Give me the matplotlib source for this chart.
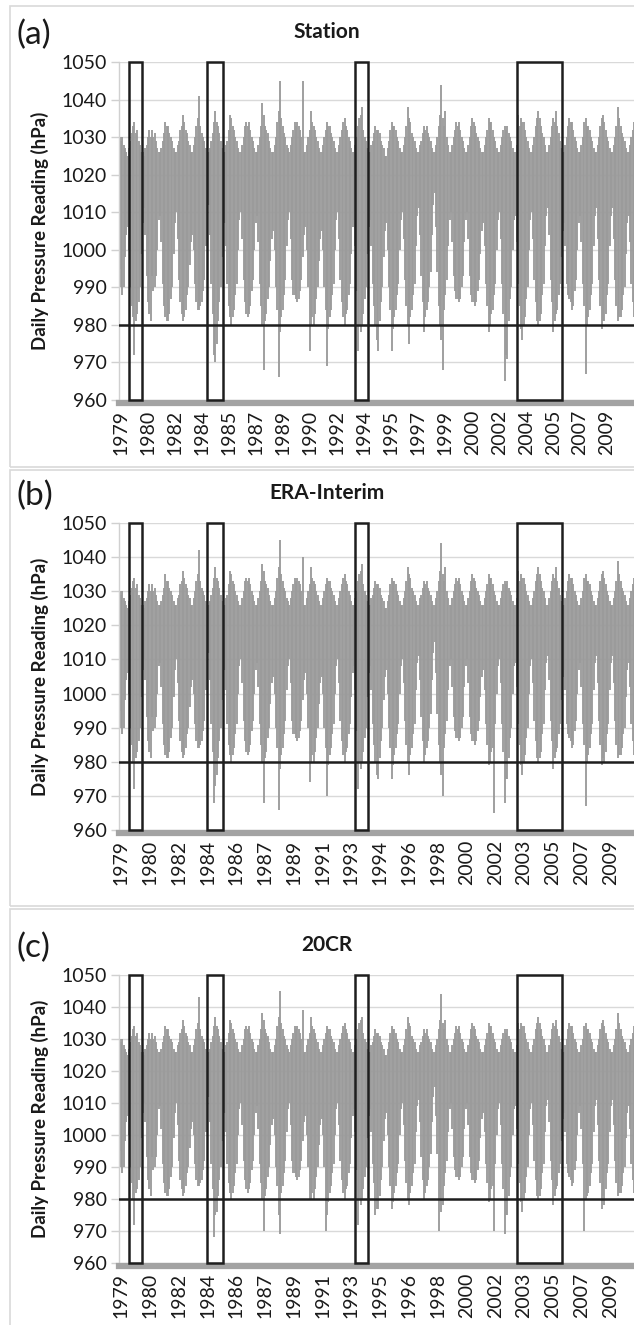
import matplotlib.pyplot as plt
import matplotlib.patches as patches
import numpy as np

plt.rcParams['font.family'] = ['Lato', 'DejaVu Sans']

# === data: monthly lowest / highest daily pressure (hPa), one row per year 1979-2010 ===
first_year = 1979

station_low = [
    [995, 990, 988, 990, 998, 1004, 1006, 1000, 990, 985, 982, 972],
    [981, 983, 986, 990, 999, 1007, 1011, 1004, 993, 986, 983, 981],
    [993, 989, 990, 993, 1000, 1008, 1009, 1002, 991, 985, 982, 981],
    [981, 983, 987, 990, 999, 1007, 1010, 1003, 992, 986, 983, 981],
    [982, 984, 988, 990, 996, 1002, 1004, 1000, 991, 986, 984, 984],
    [985, 986, 989, 992, 1001, 1009, 1012, 1004, 991, 983, 972, 970],
    [975, 981, 986, 990, 998, 1005, 1007, 1001, 991, 985, 982, 980],
    [982, 984, 988, 991, 1000, 1008, 1010, 1003, 992, 986, 983, 982],
    [983, 985, 989, 992, 1000, 1007, 1009, 1002, 991, 985, 980, 968],
    [981, 983, 987, 990, 997, 1003, 1005, 1000, 990, 984, 966, 978],
    [982, 984, 988, 992, 1001, 1008, 1010, 1003, 992, 988, 988, 987],
    [986, 987, 989, 992, 998, 1004, 1006, 1000, 990, 973, 980, 982],
    [980, 983, 987, 990, 997, 1003, 1005, 1000, 990, 984, 969, 979],
    [982, 984, 988, 991, 1000, 1008, 1010, 1003, 992, 986, 982, 980],
    [983, 984, 988, 991, 999, 1006, 1008, 1001, 989, 973, 980, 978],
    [980, 983, 987, 990, 999, 1006, 1008, 1001, 991, 985, 980, 976],
    [973, 981, 986, 990, 998, 1005, 1007, 1000, 990, 984, 973, 979],
    [982, 984, 988, 991, 1000, 1008, 1010, 1003, 992, 985, 980, 975],
    [982, 984, 988, 991, 1001, 1009, 1011, 1004, 993, 986, 978, 982],
    [984, 986, 990, 994, 1004, 1012, 1015, 1006, 994, 985, 980, 976],
    [968, 984, 988, 992, 1001, 1008, 1010, 1002, 993, 989, 987, 987],
    [986, 987, 990, 993, 1002, 1008, 1010, 1003, 993, 988, 986, 986],
    [985, 986, 989, 992, 999, 1005, 1007, 1001, 991, 985, 978, 980],
    [983, 984, 988, 991, 1000, 1008, 1010, 1003, 991, 983, 965, 972],
    [971, 981, 987, 990, 1000, 1008, 1009, 1002, 991, 985, 979, 976],
    [980, 982, 987, 990, 1000, 1008, 1010, 1003, 992, 986, 981, 980],
    [981, 983, 988, 991, 1001, 1009, 1011, 1004, 992, 986, 978, 981],
    [983, 984, 988, 991, 998, 1005, 1007, 1001, 991, 988, 987, 986],
    [984, 985, 989, 992, 1000, 1007, 1009, 1002, 991, 985, 967, 980],
    [982, 984, 988, 991, 1001, 1009, 1011, 1003, 992, 985, 979, 981],
    [981, 983, 988, 991, 1001, 1009, 1011, 1003, 992, 985, 981, 982],
    [982, 984, 988, 990, 999, 1007, 1009, 1002, 991, 986, 982, 981],
]
station_high = [
    [1030, 1029, 1030, 1028, 1027, 1026, 1025, 1027, 1029, 1031, 1033, 1034],
    [1031, 1032, 1029, 1028, 1026, 1026, 1025, 1027, 1028, 1030, 1032, 1030],
    [1032, 1030, 1031, 1029, 1027, 1026, 1026, 1027, 1029, 1031, 1034, 1033],
    [1033, 1031, 1030, 1029, 1027, 1026, 1026, 1028, 1029, 1032, 1033, 1036],
    [1034, 1032, 1031, 1029, 1028, 1026, 1026, 1028, 1030, 1033, 1035, 1041],
    [1033, 1031, 1030, 1029, 1027, 1026, 1026, 1027, 1029, 1031, 1034, 1037],
    [1034, 1033, 1031, 1029, 1027, 1026, 1026, 1028, 1029, 1032, 1036, 1035],
    [1033, 1032, 1030, 1029, 1027, 1026, 1026, 1028, 1030, 1033, 1034, 1033],
    [1034, 1032, 1030, 1029, 1027, 1026, 1026, 1028, 1030, 1033, 1039, 1036],
    [1033, 1032, 1031, 1029, 1027, 1026, 1026, 1028, 1030, 1034, 1037, 1045],
    [1035, 1033, 1031, 1030, 1028, 1027, 1026, 1028, 1030, 1032, 1034, 1033],
    [1034, 1033, 1032, 1030, 1045, 1026, 1026, 1028, 1030, 1032, 1037, 1034],
    [1033, 1032, 1030, 1029, 1027, 1026, 1026, 1028, 1030, 1032, 1034, 1033],
    [1033, 1031, 1030, 1029, 1027, 1026, 1026, 1028, 1030, 1032, 1034, 1035],
    [1033, 1032, 1030, 1029, 1027, 1026, 1026, 1028, 1030, 1033, 1035, 1036],
    [1038, 1032, 1030, 1029, 1027, 1026, 1026, 1028, 1029, 1031, 1033, 1032],
    [1032, 1031, 1029, 1028, 1027, 1025, 1025, 1027, 1029, 1032, 1034, 1033],
    [1033, 1032, 1030, 1029, 1027, 1026, 1026, 1028, 1030, 1033, 1038, 1035],
    [1034, 1031, 1030, 1029, 1027, 1026, 1026, 1028, 1029, 1031, 1033, 1032],
    [1033, 1031, 1030, 1029, 1027, 1026, 1026, 1028, 1030, 1033, 1036, 1044],
    [1035, 1033, 1037, 1030, 1028, 1026, 1026, 1028, 1030, 1032, 1034, 1033],
    [1034, 1032, 1030, 1029, 1027, 1026, 1026, 1028, 1030, 1033, 1035, 1034],
    [1033, 1031, 1030, 1029, 1027, 1026, 1026, 1028, 1030, 1032, 1035, 1034],
    [1034, 1032, 1030, 1029, 1027, 1026, 1026, 1028, 1030, 1032, 1033, 1032],
    [1033, 1031, 1030, 1029, 1027, 1026, 1026, 1028, 1036, 1033, 1035, 1034],
    [1034, 1032, 1030, 1029, 1027, 1026, 1026, 1028, 1030, 1033, 1035, 1037],
    [1035, 1033, 1031, 1030, 1028, 1026, 1026, 1028, 1030, 1033, 1035, 1034],
    [1037, 1033, 1031, 1029, 1027, 1026, 1026, 1028, 1030, 1033, 1035, 1034],
    [1034, 1032, 1030, 1029, 1027, 1026, 1026, 1028, 1030, 1034, 1035, 1033],
    [1033, 1032, 1030, 1029, 1027, 1026, 1026, 1028, 1030, 1033, 1035, 1036],
    [1034, 1032, 1030, 1029, 1027, 1026, 1026, 1028, 1030, 1033, 1038, 1035],
    [1033, 1031, 1030, 1029, 1027, 1026, 1026, 1028, 1030, 1032, 1034, 1033],
]

era_low = [
    [995, 990, 988, 990, 998, 1004, 1006, 1000, 990, 985, 980, 972],
    [981, 983, 986, 990, 999, 1007, 1010, 1004, 993, 986, 983, 981],
    [993, 989, 990, 993, 1000, 1008, 1009, 1002, 991, 985, 982, 981],
    [981, 983, 987, 990, 999, 1007, 1010, 1003, 992, 986, 983, 981],
    [982, 984, 988, 990, 996, 1002, 1004, 1000, 991, 986, 984, 984],
    [985, 986, 989, 992, 1001, 1009, 1012, 1004, 991, 983, 968, 973],
    [976, 981, 986, 990, 998, 1005, 1007, 1001, 991, 985, 982, 980],
    [982, 984, 988, 991, 1000, 1008, 1010, 1003, 992, 986, 983, 982],
    [983, 985, 989, 992, 1000, 1007, 1009, 1002, 991, 985, 980, 968],
    [981, 983, 987, 990, 997, 1003, 1005, 1000, 990, 984, 966, 978],
    [982, 984, 988, 992, 1001, 1008, 1010, 1003, 992, 988, 988, 987],
    [986, 987, 989, 992, 998, 1004, 1006, 1000, 990, 974, 980, 982],
    [980, 983, 987, 990, 997, 1003, 1005, 1000, 990, 984, 970, 979],
    [982, 984, 988, 991, 1000, 1008, 1010, 1003, 992, 986, 982, 980],
    [983, 984, 988, 991, 999, 1006, 1008, 1001, 989, 972, 980, 978],
    [980, 983, 987, 990, 999, 1006, 1008, 1001, 991, 985, 980, 976],
    [975, 981, 986, 990, 998, 1005, 1007, 1000, 990, 984, 975, 979],
    [982, 984, 988, 991, 1000, 1008, 1010, 1003, 992, 985, 980, 976],
    [982, 984, 988, 991, 1001, 1009, 1011, 1004, 993, 986, 980, 982],
    [984, 986, 990, 994, 1004, 1012, 1015, 1006, 994, 985, 980, 976],
    [970, 984, 988, 992, 1001, 1008, 1010, 1002, 993, 989, 987, 987],
    [986, 987, 990, 993, 1002, 1008, 1010, 1003, 993, 988, 986, 986],
    [985, 986, 989, 992, 999, 1005, 1007, 1001, 991, 985, 979, 980],
    [983, 984, 965, 991, 1000, 1008, 1010, 1003, 991, 983, 968, 975],
    [975, 981, 987, 990, 1000, 1008, 1009, 1002, 991, 985, 979, 976],
    [980, 982, 987, 990, 1000, 1008, 1010, 1003, 992, 986, 981, 980],
    [981, 983, 988, 991, 1001, 1009, 1011, 1004, 992, 986, 978, 981],
    [983, 984, 988, 991, 998, 1005, 1007, 1001, 991, 988, 987, 986],
    [984, 985, 989, 992, 1000, 1007, 1009, 1002, 991, 985, 967, 980],
    [982, 984, 988, 991, 1001, 1009, 1011, 1003, 992, 985, 979, 981],
    [980, 983, 988, 991, 1001, 1009, 1011, 1003, 992, 985, 981, 982],
    [982, 984, 988, 990, 999, 1007, 1009, 1002, 991, 986, 982, 981],
]
era_high = [
    [1030, 1029, 1030, 1028, 1027, 1026, 1025, 1027, 1029, 1031, 1033, 1034],
    [1031, 1032, 1029, 1028, 1026, 1026, 1025, 1027, 1028, 1030, 1032, 1030],
    [1032, 1030, 1031, 1029, 1027, 1026, 1026, 1027, 1029, 1031, 1035, 1033],
    [1033, 1031, 1030, 1029, 1027, 1026, 1026, 1028, 1029, 1032, 1033, 1036],
    [1034, 1032, 1031, 1029, 1028, 1026, 1026, 1028, 1030, 1033, 1035, 1042],
    [1033, 1031, 1030, 1029, 1027, 1026, 1026, 1027, 1029, 1031, 1034, 1037],
    [1034, 1033, 1031, 1029, 1027, 1026, 1026, 1028, 1029, 1032, 1036, 1035],
    [1033, 1032, 1030, 1029, 1027, 1026, 1026, 1028, 1030, 1033, 1034, 1033],
    [1034, 1032, 1030, 1029, 1027, 1026, 1026, 1028, 1030, 1033, 1038, 1036],
    [1033, 1032, 1031, 1029, 1027, 1026, 1026, 1028, 1030, 1034, 1037, 1045],
    [1035, 1033, 1031, 1030, 1028, 1027, 1026, 1028, 1030, 1032, 1034, 1033],
    [1034, 1033, 1032, 1030, 1040, 1026, 1026, 1028, 1030, 1032, 1037, 1034],
    [1033, 1032, 1030, 1029, 1027, 1026, 1026, 1028, 1030, 1032, 1034, 1033],
    [1033, 1031, 1030, 1029, 1027, 1026, 1026, 1028, 1030, 1032, 1034, 1035],
    [1033, 1032, 1030, 1029, 1027, 1026, 1026, 1028, 1030, 1033, 1035, 1036],
    [1038, 1032, 1030, 1029, 1027, 1026, 1026, 1028, 1029, 1031, 1033, 1032],
    [1032, 1031, 1029, 1028, 1027, 1025, 1025, 1027, 1029, 1032, 1034, 1033],
    [1033, 1032, 1030, 1029, 1027, 1026, 1026, 1028, 1030, 1033, 1037, 1035],
    [1034, 1031, 1030, 1029, 1027, 1026, 1026, 1028, 1029, 1031, 1033, 1032],
    [1033, 1031, 1030, 1029, 1027, 1026, 1026, 1028, 1030, 1033, 1036, 1044],
    [1035, 1033, 1037, 1030, 1028, 1026, 1026, 1028, 1030, 1032, 1034, 1033],
    [1034, 1032, 1030, 1029, 1027, 1026, 1026, 1028, 1030, 1033, 1035, 1034],
    [1033, 1031, 1030, 1029, 1027, 1026, 1026, 1028, 1030, 1032, 1035, 1034],
    [1034, 1032, 1030, 1029, 1027, 1026, 1026, 1028, 1030, 1032, 1033, 1032],
    [1033, 1031, 1030, 1029, 1027, 1026, 1026, 1028, 1036, 1033, 1035, 1034],
    [1034, 1032, 1030, 1029, 1027, 1026, 1026, 1028, 1030, 1033, 1035, 1037],
    [1035, 1033, 1031, 1030, 1028, 1026, 1026, 1028, 1030, 1033, 1035, 1034],
    [1037, 1033, 1031, 1029, 1027, 1026, 1026, 1028, 1030, 1033, 1035, 1034],
    [1034, 1032, 1030, 1029, 1027, 1026, 1026, 1028, 1030, 1034, 1035, 1033],
    [1033, 1032, 1030, 1029, 1027, 1026, 1026, 1028, 1030, 1033, 1035, 1036],
    [1034, 1032, 1030, 1029, 1027, 1026, 1026, 1028, 1030, 1033, 1039, 1035],
    [1033, 1031, 1030, 1029, 1027, 1026, 1026, 1028, 1030, 1032, 1034, 1033],
]

cr20_low = [
    [995, 990, 988, 990, 998, 1004, 1006, 1000, 990, 985, 980, 972],
    [982, 983, 986, 990, 999, 1007, 1010, 1004, 993, 986, 983, 981],
    [993, 989, 990, 993, 1000, 1008, 1009, 1002, 991, 985, 982, 981],
    [981, 983, 987, 990, 999, 1007, 1010, 1003, 992, 986, 983, 981],
    [982, 984, 988, 990, 996, 1002, 1004, 1000, 991, 986, 984, 984],
    [985, 986, 989, 992, 1001, 1009, 1012, 1004, 991, 983, 968, 975],
    [976, 981, 986, 990, 998, 1005, 1007, 1001, 991, 985, 982, 980],
    [982, 984, 988, 991, 1000, 1008, 1010, 1003, 992, 986, 983, 982],
    [983, 985, 989, 992, 1000, 1007, 1009, 1002, 991, 985, 980, 970],
    [981, 983, 987, 990, 997, 1003, 1005, 1000, 990, 984, 975, 969],
    [982, 984, 988, 992, 1001, 1008, 1010, 1003, 992, 988, 988, 987],
    [986, 987, 989, 992, 998, 1004, 1006, 1000, 990, 980, 980, 982],
    [980, 983, 987, 990, 997, 1003, 1005, 1000, 990, 970, 975, 979],
    [982, 984, 988, 991, 1000, 1008, 1010, 1003, 992, 986, 982, 980],
    [983, 984, 988, 991, 999, 1006, 1008, 1001, 989, 972, 980, 978],
    [980, 983, 987, 990, 999, 1006, 1008, 1001, 991, 985, 975, 977],
    [977, 981, 986, 990, 998, 1005, 1007, 1000, 990, 984, 977, 979],
    [982, 984, 988, 991, 1000, 1008, 1010, 1003, 992, 985, 980, 978],
    [982, 984, 988, 991, 1001, 1009, 1011, 1004, 993, 986, 980, 982],
    [984, 986, 990, 994, 1004, 1012, 1015, 1006, 994, 970, 980, 976],
    [978, 984, 988, 992, 1001, 1008, 1010, 1002, 993, 989, 987, 987],
    [986, 987, 990, 993, 1002, 1008, 1010, 1003, 993, 988, 986, 986],
    [985, 986, 989, 992, 999, 1005, 1007, 1001, 991, 985, 979, 980],
    [983, 984, 970, 991, 1000, 1008, 1010, 1003, 991, 983, 969, 975],
    [975, 981, 987, 990, 1000, 1008, 1009, 1002, 991, 985, 979, 976],
    [980, 982, 987, 990, 1000, 1008, 1010, 1003, 992, 986, 981, 980],
    [981, 983, 988, 991, 1001, 1009, 1011, 1004, 992, 986, 978, 981],
    [983, 984, 988, 991, 998, 1005, 1007, 1001, 991, 988, 987, 986],
    [984, 985, 989, 992, 1000, 1007, 1009, 1002, 991, 970, 980, 981],
    [982, 984, 988, 991, 1001, 1009, 1011, 1003, 992, 985, 977, 981],
    [978, 983, 988, 991, 1001, 1009, 1011, 1003, 992, 985, 981, 982],
    [982, 984, 988, 990, 999, 1007, 1009, 1002, 991, 986, 982, 981],
]
cr20_high = [
    [1030, 1029, 1030, 1028, 1027, 1026, 1025, 1027, 1029, 1031, 1033, 1034],
    [1031, 1032, 1029, 1028, 1026, 1026, 1025, 1027, 1028, 1030, 1032, 1030],
    [1032, 1030, 1031, 1029, 1027, 1026, 1026, 1027, 1029, 1031, 1034, 1033],
    [1033, 1031, 1030, 1029, 1027, 1026, 1026, 1028, 1029, 1032, 1033, 1036],
    [1034, 1032, 1031, 1029, 1028, 1026, 1026, 1028, 1030, 1033, 1035, 1043],
    [1033, 1031, 1030, 1029, 1027, 1026, 1026, 1027, 1029, 1031, 1034, 1037],
    [1034, 1033, 1031, 1029, 1027, 1026, 1026, 1028, 1029, 1032, 1036, 1035],
    [1033, 1032, 1030, 1029, 1027, 1026, 1026, 1028, 1030, 1033, 1034, 1033],
    [1034, 1032, 1030, 1029, 1027, 1026, 1026, 1028, 1030, 1033, 1038, 1036],
    [1033, 1032, 1031, 1029, 1027, 1026, 1026, 1028, 1030, 1034, 1037, 1045],
    [1035, 1033, 1031, 1030, 1028, 1027, 1026, 1028, 1030, 1032, 1034, 1033],
    [1034, 1033, 1032, 1030, 1039, 1026, 1026, 1028, 1030, 1032, 1037, 1034],
    [1033, 1032, 1030, 1029, 1027, 1026, 1026, 1028, 1030, 1032, 1034, 1033],
    [1033, 1031, 1030, 1029, 1027, 1026, 1026, 1028, 1030, 1032, 1034, 1035],
    [1033, 1032, 1030, 1029, 1027, 1026, 1026, 1028, 1030, 1033, 1035, 1036],
    [1037, 1032, 1030, 1029, 1027, 1026, 1026, 1028, 1029, 1031, 1033, 1032],
    [1032, 1031, 1029, 1028, 1027, 1025, 1025, 1027, 1029, 1032, 1034, 1033],
    [1033, 1032, 1030, 1029, 1027, 1026, 1026, 1028, 1030, 1033, 1037, 1035],
    [1034, 1031, 1030, 1029, 1027, 1026, 1026, 1028, 1029, 1031, 1033, 1032],
    [1033, 1031, 1030, 1029, 1027, 1026, 1026, 1028, 1030, 1033, 1036, 1044],
    [1035, 1033, 1036, 1030, 1028, 1026, 1026, 1028, 1030, 1032, 1034, 1033],
    [1034, 1032, 1030, 1029, 1027, 1026, 1026, 1028, 1030, 1033, 1035, 1034],
    [1033, 1031, 1030, 1029, 1027, 1026, 1026, 1028, 1030, 1032, 1035, 1034],
    [1034, 1032, 1030, 1029, 1027, 1026, 1026, 1028, 1030, 1032, 1033, 1032],
    [1033, 1031, 1030, 1029, 1027, 1026, 1026, 1028, 1035, 1033, 1035, 1034],
    [1034, 1032, 1030, 1029, 1027, 1026, 1026, 1028, 1030, 1033, 1035, 1037],
    [1035, 1033, 1031, 1030, 1028, 1026, 1026, 1028, 1030, 1033, 1035, 1034],
    [1036, 1033, 1031, 1029, 1027, 1026, 1026, 1028, 1030, 1033, 1035, 1034],
    [1034, 1032, 1030, 1029, 1027, 1026, 1026, 1028, 1030, 1034, 1035, 1033],
    [1033, 1032, 1030, 1029, 1027, 1026, 1026, 1028, 1030, 1033, 1035, 1036],
    [1034, 1032, 1030, 1029, 1027, 1026, 1026, 1028, 1030, 1033, 1038, 1035],
    [1033, 1031, 1030, 1029, 1027, 1026, 1026, 1028, 1030, 1032, 1034, 1033],
]

labels_a = ['1979', '1980', '1982', '1984', '1985', '1987', '1989', '1990', '1992', '1994',
            '1995', '1997', '1999', '2000', '2002', '2004', '2005', '2007', '2009']
labels_b = ['1979', '1980', '1982', '1984', '1986', '1987', '1989', '1991', '1993', '1994',
            '1996', '1998', '2000', '2002', '2003', '2005', '2007', '2009']
labels_c = ['1979', '1980', '1982', '1984', '1986', '1987', '1989', '1991', '1993', '1995',
            '1996', '1998', '2000', '2002', '2003', '2005', '2007', '2009']

# highlighted periods (start, end) in decimal years
event_boxes = [(1979.62, 1980.40), (1984.45, 1985.42), (1993.60, 1994.40), (2003.66, 2006.45)]
threshold = 980
y_ticks = [960, 970, 980, 990, 1000, 1010, 1020, 1030, 1040, 1050]

# === layout (pixels of the 634 x 1325 picture) ===
W, H = 634, 1325
fig = plt.figure(figsize=(W / 100, H / 100), dpi=100)

panels = [
    # letter, title, lows, highs, tick labels, tick step (days), frame top/bottom, axes top/bottom
    ('(a)', 'Station', station_low, station_high, labels_a, 610, 6, 467, 62, 400),
    ('(b)', 'ERA-Interim', era_low, era_high, labels_b, 650, 470, 906, 523, 830),
    ('(c)', '20CR', cr20_low, cr20_high, labels_c, 650, 909, 1330, 975, 1263),
]

for letter, title, low, high, labels, step, f_top, f_bot, a_top, a_bot in panels:
    # light frame around each chart
    fig.patches.append(patches.Rectangle((10 / W, 1 - f_bot / H), 640 / W, (f_bot - f_top) / H,
                                         transform=fig.transFigure, fill=False,
                                         edgecolor='#d9d9d9', lw=1.2))

    ax = fig.add_axes([119 / W, 1 - a_bot / H, 517 / W, (a_bot - a_top) / H])

    lo = np.array(low).ravel()
    hi = np.array(high).ravel()
    t = first_year + (np.arange(lo.size) + 0.5) / 12
    ax.vlines(t, lo, hi, color='#9b9b9b', lw=1.35, zorder=2)

    ax.axhline(threshold, color='#1e1e1e', lw=1.8, zorder=4)
    for x0, x1 in event_boxes:
        ax.add_patch(patches.Rectangle((x0, 960), x1 - x0, 90, fill=False,
                                       edgecolor='#1e1e1e', lw=1.8, zorder=5, clip_on=False))

    ax.set_xlim(first_year, first_year + len(low))
    ax.set_ylim(960, 1050)
    ax.set_yticks(y_ticks)
    ax.grid(axis='y', color='#d9d9d9', lw=1.0, zorder=0)
    ax.set_axisbelow(True)

    ticks = first_year + 0.15 + np.arange(len(labels)) * step / 365.25
    ax.set_xticks(ticks)
    ax.set_xticklabels(labels)

    for s in ['top', 'right']:
        ax.spines[s].set_visible(False)
    ax.spines['left'].set_color('#d0d0d0')
    ax.spines['left'].set_linewidth(1.0)
    ax.spines['bottom'].set_color('#a3a3a3')
    ax.spines['bottom'].set_linewidth(4.5)
    ax.spines['bottom'].set_position(('outward', 2))

    ax.tick_params(axis='y', direction='out', length=6, color='#d0d0d0', width=1.0,
                   labelsize=14, pad=3, labelcolor='#1a1a1a')
    ax.tick_params(axis='x', length=0, labelsize=14, pad=5, labelcolor='#1a1a1a',
                   labelrotation=90)

    mid = 1 - (a_top + a_bot) / 2 / H
    fig.text(40 / W, mid, 'Daily Pressure Reading (hPa)', rotation=90, ha='center',
             va='center', fontsize=13.5, fontweight='bold', color='#1a1a1a')
    fig.text(327 / W, 1 - (a_top - 30) / H, title, ha='center', va='center',
             fontsize=15, fontweight='bold', color='#1a1a1a')
    fig.text(16 / W, 1 - (a_top - 27) / H, letter, ha='left', va='center',
             fontsize=24, color='#1a1a1a')

fig.savefig('out.png', dpi=100, facecolor='white')
